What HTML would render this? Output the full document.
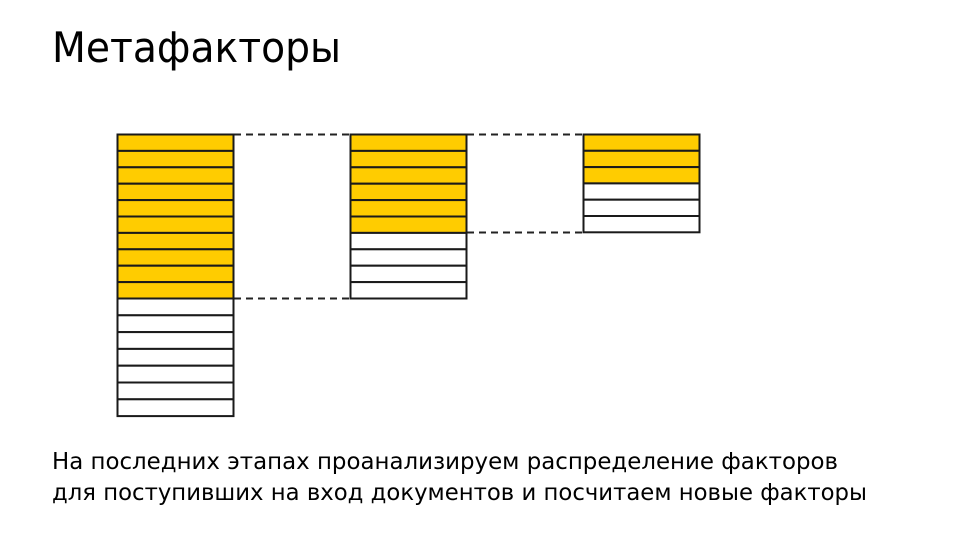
<!DOCTYPE html>
<html><head><meta charset="utf-8"><style>
html,body{margin:0;padding:0;background:#fff;width:971px;height:540px;overflow:hidden}
svg{display:block}
text{font-family:"DejaVu Sans","Liberation Sans",sans-serif;fill:#000}
</style></head><body>
<svg width="971" height="540" viewBox="0 0 971 540" xmlns="http://www.w3.org/2000/svg">
<text x="52" y="62" font-size="42" textLength="289" lengthAdjust="spacingAndGlyphs">Метафакторы</text>
<g stroke="#222" stroke-width="2" stroke-dasharray="7,5" fill="none">
<line x1="234" y1="134.5" x2="350" y2="134.5"/>
<line x1="234" y1="298.5" x2="350" y2="298.5"/>
<line x1="467" y1="134.5" x2="583" y2="134.5"/>
<line x1="467" y1="232.5" x2="583" y2="232.5"/>
</g>
<g stroke="#1a1a1a" stroke-width="2">
<g fill="#FFCC00">
<rect x="117.5" y="134.5" width="116" height="16.4"/>
<rect x="117.5" y="150.9" width="116" height="16.4"/>
<rect x="117.5" y="167.3" width="116" height="16.4"/>
<rect x="117.5" y="183.7" width="116" height="16.4"/>
<rect x="117.5" y="200.1" width="116" height="16.4"/>
<rect x="117.5" y="216.5" width="116" height="16.4"/>
<rect x="117.5" y="232.9" width="116" height="16.4"/>
<rect x="117.5" y="249.3" width="116" height="16.4"/>
<rect x="117.5" y="265.7" width="116" height="16.4"/>
<rect x="117.5" y="282.1" width="116" height="16.4"/>
</g>
<g fill="#fff">
<rect x="117.5" y="298.5" width="116" height="16.8"/>
<rect x="117.5" y="315.3" width="116" height="16.8"/>
<rect x="117.5" y="332.1" width="116" height="16.8"/>
<rect x="117.5" y="348.9" width="116" height="16.8"/>
<rect x="117.5" y="365.7" width="116" height="16.8"/>
<rect x="117.5" y="382.5" width="116" height="16.8"/>
<rect x="117.5" y="399.3" width="116" height="16.8"/>
</g>
<g fill="#FFCC00">
<rect x="350.5" y="134.5" width="116" height="16.4"/>
<rect x="350.5" y="150.9" width="116" height="16.4"/>
<rect x="350.5" y="167.3" width="116" height="16.4"/>
<rect x="350.5" y="183.7" width="116" height="16.4"/>
<rect x="350.5" y="200.1" width="116" height="16.4"/>
<rect x="350.5" y="216.5" width="116" height="16.4"/>
</g>
<g fill="#fff">
<rect x="350.5" y="232.9" width="116" height="16.4"/>
<rect x="350.5" y="249.3" width="116" height="16.4"/>
<rect x="350.5" y="265.7" width="116" height="16.4"/>
<rect x="350.5" y="282.1" width="116" height="16.4"/>
</g>
<g fill="#FFCC00">
<rect x="583.5" y="134.5" width="116" height="16.3"/>
<rect x="583.5" y="150.8" width="116" height="16.3"/>
<rect x="583.5" y="167.1" width="116" height="16.3"/>
</g>
<g fill="#fff">
<rect x="583.5" y="183.4" width="116" height="16.3"/>
<rect x="583.5" y="199.7" width="116" height="16.3"/>
<rect x="583.5" y="216" width="116" height="16.3"/>
</g>
</g>
<text x="52" y="469" font-size="23" textLength="786" lengthAdjust="spacingAndGlyphs">На последних этапах проанализируем распределение факторов</text>
<text x="52" y="500" font-size="23" textLength="815" lengthAdjust="spacingAndGlyphs">для поступивших на вход документов и посчитаем новые факторы</text>
</svg>
</body></html>
